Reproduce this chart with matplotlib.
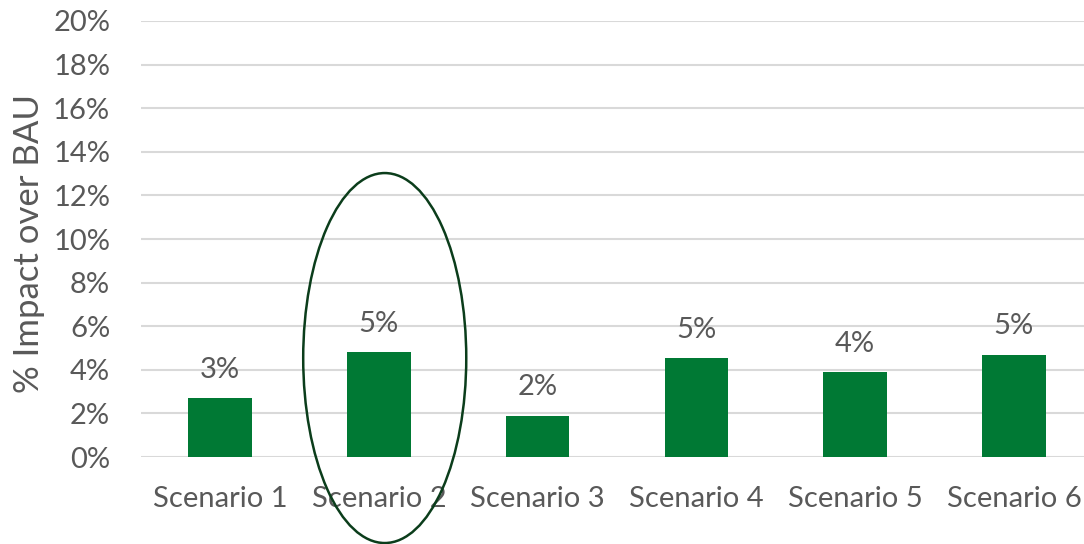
import matplotlib
matplotlib.use("Agg")
import matplotlib.pyplot as plt
from matplotlib.patches import Ellipse
from matplotlib.ticker import FuncFormatter, MultipleLocator

# Data
scenarios = ["Scenario 1", "Scenario 2", "Scenario 3", "Scenario 4", "Scenario 5", "Scenario 6"]
impact_pct = [2.7, 4.8, 1.9, 4.55, 3.9, 4.7]
highlighted = 1  # Scenario 2

bar_color = "#007934"
text_color = "#595959"
grid_color = "#D9D9D9"

plt.rcParams["font.family"] = ["Lato", "DejaVu Sans"]

fig = plt.figure(figsize=(10.84, 5.44), dpi=100)
ax = fig.add_axes([0.1298, 0.1599, 0.8788, 0.8015])

x = range(len(scenarios))
bars = ax.bar(x, impact_pct, width=0.4, color=bar_color, zorder=3)

ax.set_xlim(-0.5, len(scenarios) - 0.5)
ax.set_ylim(0, 20)
ax.yaxis.set_major_locator(MultipleLocator(2))
ax.yaxis.set_major_formatter(FuncFormatter(lambda v, _: f"{v:.0f}%"))
ax.set_xticks(list(x))
ax.set_xticklabels(scenarios)

ax.grid(axis="y", color=grid_color, linewidth=1.5, zorder=0)
ax.set_axisbelow(True)
for s in ax.spines.values():
    s.set_visible(False)
ax.tick_params(axis="both", length=0, labelsize=21, colors=text_color)
ax.tick_params(axis="x", pad=21)
ax.tick_params(axis="y", pad=22)

ax.set_ylabel("% Impact over BAU", fontsize=25, color=text_color)
ax.yaxis.set_label_coords(-0.100, 0.49)

# Value labels above each bar
for rect, v in zip(bars, impact_pct):
    ax.annotate(f"{v:.0f}%", (rect.get_x() + rect.get_width() / 2, v),
                xytext=(0, 11), textcoords="offset points",
                ha="center", va="bottom", fontsize=21, color=text_color)

# Outline around the highlighted scenario
ax.add_patch(Ellipse((highlighted + 0.037, 4.54), 1.027, 16.97,
                     fill=False, edgecolor="#0B3D1B", linewidth=1.8,
                     clip_on=False, zorder=4))

fig.savefig("out.png", dpi=100)
